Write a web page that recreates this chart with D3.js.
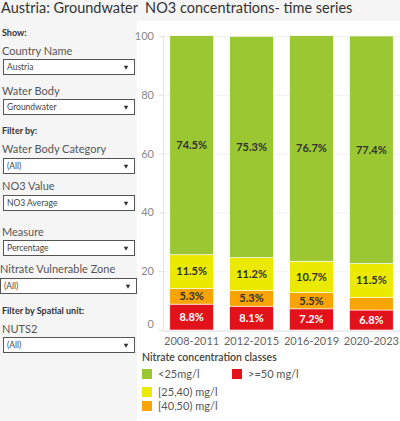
<!DOCTYPE html>
<html>
<head>
<meta charset="utf-8">
<script src="https://cdn.jsdelivr.net/npm/d3@7"></script>
<style>
  body { margin: 0; background: #fff; }
  svg text { font-family: Lato, "Noto Sans", sans-serif; }
</style>
</head>
<body>
<div id="chart"></div>
<script>
// Data
const periods = ["2008-2011", "2012-2015", "2016-2019", "2020-2023"];
const classes = ["<25mg/l", "[25,40) mg/l", "[40,50) mg/l", ">=50 mg/l"];
const below25 = [74.5, 75.3, 76.7, 77.4];
const from25to40 = [11.5, 11.2, 10.7, 11.5];
const from40to50 = [5.3, 5.3, 5.5, 4.3];
const above50 = [8.8, 8.1, 7.2, 6.8];
const yTicks = [0, 20, 40, 60, 80, 100];

// filter panel contents
const filters = [
    {head: "Show:", label: "Country Name", value: "Austria"},
    {label: "Water Body", value: "Groundwater"},
    {head: "Filter by:", label: "Water Body Category", value: "(All)"},
    {label: "NO3 Value", value: "NO3 Average"},
    {label: "Measure", value: "Percentage"},
    {label: "Nitrate Vulnerable Zone", value: "(All)", wide: true},
    {head: "Filter by Spatial unit:", label: "NUTS2", value: "(All)"}
];

const colors = {
    "<25mg/l": "#9bc732",
    "[25,40) mg/l": "#ebe900",
    "[40,50) mg/l": "#f9a400",
    ">=50 mg/l": "#e2121b"
};

const W = 400, H = 421;
const svg = d3.select("#chart").append("svg")
    .attr("width", W)
    .attr("height", H);

// backgrounds
svg.append("rect").attr("width", W).attr("height", H).attr("fill", "#f5f5f5");
svg.append("rect").attr("x", 137).attr("y", 21).attr("width", W - 137).attr("height", H - 21).attr("fill", "#fff");

svg.append("text")
    .attr("x", 1).attr("y", 13)
    .attr("font-size", 14.5)
    .attr("fill", "#333")
    .text("Austria: Groundwater  NO3 concentrations- time series")
    .style("white-space", "pre");

// ---- left filter panel ----
const panel = svg.append("g");
const headY = {0: 33, 2: 131, 6: 311};
const labelY = [55, 95, 153, 190, 236, 273, 333];
const boxY = [59, 99, 158, 195, 240, 278, 337];

filters.forEach(function(f, i) {
    if (f.head) {
        panel.append("text")
            .attr("x", 2).attr("y", headY[i] + 3)
            .attr("font-size", 9)
            .attr("font-weight", "bold")
            .attr("fill", "#333")
            .text(f.head);
    }
    panel.append("text")
        .attr("x", f.wide ? 0 : 2).attr("y", labelY[i])
        .attr("font-size", 11)
        .attr("fill", "#555")
        .text(f.label);
    const bx = f.wide ? 0 : 3;
    const bw = f.wide ? 136 : 131;
    panel.append("rect")
        .attr("x", bx + 0.5).attr("y", boxY[i] + 0.5)
        .attr("width", bw).attr("height", 15)
        .attr("fill", "#fff")
        .attr("stroke", "#555");
    panel.append("text")
        .attr("x", bx + 4).attr("y", boxY[i] + 11)
        .attr("font-size", 8.5)
        .attr("fill", "#444")
        .text(f.value);
    panel.append("path")
        .attr("d", d3.symbol(d3.symbolTriangle, 9)())
        .attr("transform", `translate(${bx + bw - 8},${boxY[i] + 8}) rotate(180)`)
        .attr("fill", "#333");
});

// ---- stacked bars ----
const x = d3.scaleBand()
    .domain(periods)
    .range([162, 401])
    .paddingInner(0.27)
    .paddingOuter(0.13);

const yScale = d3.scaleLinear()
    .domain([0, 100])
    .range([330, 36]);

// gridlines
svg.append("g")
    .selectAll("line")
    .data(yTicks)
    .join("line")
    .attr("x1", 163).attr("x2", 400)
    .attr("y1", d => yScale(d) + 0.5).attr("y2", d => yScale(d) + 0.5)
    .attr("stroke", "#f0f0f0");

const yAxis = svg.append("g")
    .attr("transform", "translate(163,0)")
    .call(d3.axisLeft(yScale).tickValues(yTicks).tickSize(4).tickPadding(5));
yAxis.select(".domain").attr("stroke", "#e6e6e6");
yAxis.selectAll(".tick line").attr("stroke", "#e0e0e0");
yAxis.selectAll(".tick text")
    .attr("font-family", "Lato, 'Noto Sans', sans-serif")
    .attr("font-size", 11)
    .attr("fill", "#888");
// Tableau keeps the bottom label inside the pane
yAxis.selectAll(".tick").filter(d => d === 0).select("text").attr("dy", "-0.25em");

// bottom line of pane
svg.append("line")
    .attr("x1", 163).attr("x2", 400)
    .attr("y1", 331.5).attr("y2", 331.5)
    .attr("stroke", "#eaeaea");

const rows = periods.map((p, i) => ({
    period: p,
    "<25mg/l": below25[i],
    "[25,40) mg/l": from25to40[i],
    "[40,50) mg/l": from40to50[i],
    ">=50 mg/l": above50[i]
}));

const stackOrder = [">=50 mg/l", "[40,50) mg/l", "[25,40) mg/l", "<25mg/l"];
const series = d3.stack().keys(stackOrder)(rows);

const layers = svg.append("g")
    .selectAll("g")
    .data(series)
    .join("g")
    .attr("fill", d => colors[d.key]);

layers.selectAll("rect")
    .data(d => d)
    .join("rect")
    .attr("x", d => x(d.data.period))
    .attr("width", x.bandwidth())
    .attr("y", d => yScale(d[1]))
    .attr("height", d => yScale(d[0]) - yScale(d[1]))
    .attr("stroke", "#fff")
    .attr("stroke-width", 0.6);

layers.each(function(s) {
    d3.select(this).selectAll("text")
        .data(s.filter(d => yScale(d[0]) - yScale(d[1]) > 14))
        .join("text")
        .attr("x", d => x(d.data.period) + x.bandwidth() / 2)
        .attr("y", d => yScale((d[0] + d[1]) / 2))
        .attr("dy", "0.35em")
        .attr("text-anchor", "middle")
        .attr("font-size", 11)
        .attr("font-weight", "bold")
        .attr("fill", s.key === ">=50 mg/l" ? "#fff" : "#333")
        .text(d => d3.format(".1f")(d.data[s.key]) + "%");
});

// x axis labels
const xAxis = svg.append("g")
    .attr("transform", "translate(0,332)")
    .call(d3.axisBottom(x).tickSize(0).tickPadding(5));
xAxis.select(".domain").remove();
xAxis.selectAll(".tick text")
    .attr("font-family", "Lato, 'Noto Sans', sans-serif")
    .attr("font-size", 11)
    .attr("fill", "#666");

// ---- legend ----
const legend = svg.append("g");
legend.append("text")
    .attr("x", 142).attr("y", 361)
    .attr("font-size", 10.5)
    .attr("font-weight", 600)
    .attr("fill", "#444")
    .text("Nitrate concentration classes");

const legendPos = [[142, 369], [142, 387], [142, 401], [232, 369]];
classes.forEach(function(c, i) {
    const [lx, ly] = legendPos[i];
    legend.append("rect")
        .attr("x", lx).attr("y", ly)
        .attr("width", 10).attr("height", 10)
        .attr("fill", colors[c]);
    legend.append("text")
        .attr("x", lx + 16).attr("y", ly + 9)
        .attr("font-size", 11)
        .attr("fill", "#555")
        .text(c);
});
</script>
</body>
</html>
